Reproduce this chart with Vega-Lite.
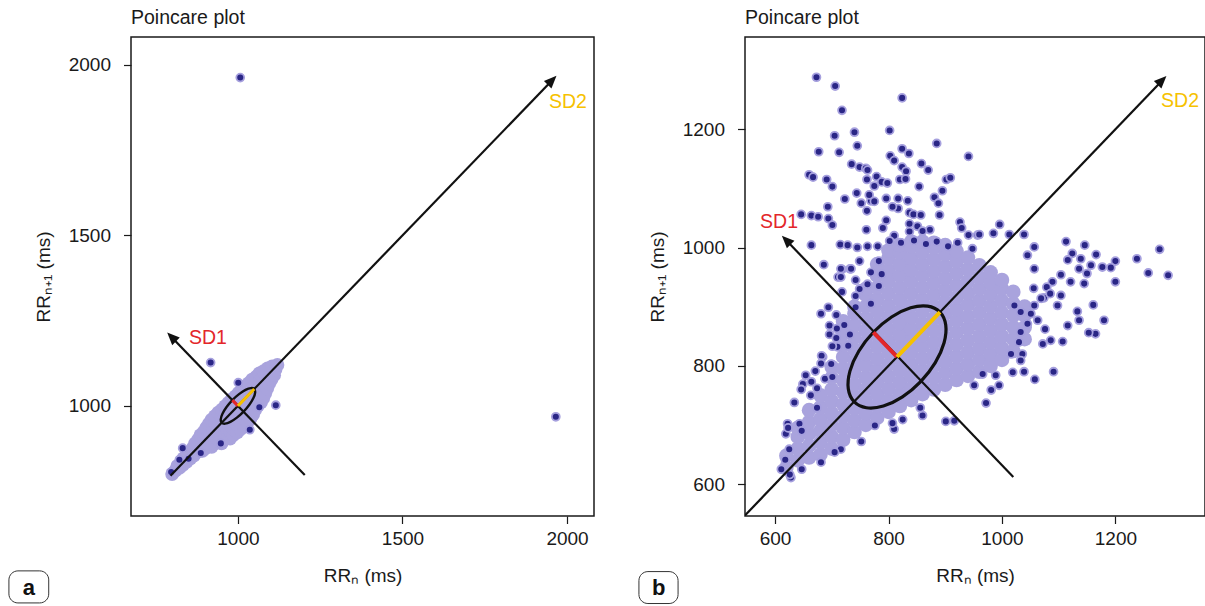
{
"$schema": "https://vega.github.io/schema/vega-lite/v6.json",
"background": "white",
"padding": {"left": 7, "top": 6, "right": 0, "bottom": 0},
"config": {
 "font": "Liberation Sans",
 "view": {"stroke": "#1a1a1a", "strokeWidth": 1.5},
 "axis": {"domain": false, "grid": false, "tickSize": 7.5, "tickColor": "#1a1a1a", "tickWidth": 1.2, "labelFontSize": 19, "labelColor": "#1a1a1a", "titleFontSize": 19, "titleFontWeight": "normal", "titleColor": "#1a1a1a", "labelFlush": false},
 "axisX": {"labelPadding": 6, "titlePadding": 18},
 "axisY": {"labelPadding": 13, "titlePadding": 15},
 "title": {"fontSize": 19.5, "fontWeight": "normal", "anchor": "start", "frame": "group", "color": "#1a1a1a", "offset": 9}
},
"datasets": {
 "cloudA": [{"x":800,"y":800},{"x":810,"y":810},{"x":816,"y":824},{"x":822,"y":818},{"x":827,"y":833},{"x":833,"y":827},{"x":834,"y":846},{"x":844,"y":836},{"x":845,"y":855},{"x":855,"y":845},{"x":854,"y":866},{"x":866,"y":854},{"x":863,"y":877},{"x":875,"y":865},{"x":870,"y":890},{"x":880,"y":880},{"x":892,"y":868},{"x":879,"y":901},{"x":891,"y":889},{"x":903,"y":877},{"x":886,"y":914},{"x":898,"y":902},{"x":910,"y":890},{"x":920,"y":880},{"x":896,"y":924},{"x":908,"y":912},{"x":920,"y":900},{"x":930,"y":890},{"x":904,"y":936},{"x":914,"y":926},{"x":924,"y":916},{"x":934,"y":906},{"x":944,"y":896},{"x":950,"y":890},{"x":912,"y":948},{"x":924,"y":936},{"x":936,"y":924},{"x":948,"y":912},{"x":958,"y":902},{"x":920,"y":960},{"x":930,"y":950},{"x":940,"y":940},{"x":950,"y":930},{"x":960,"y":920},{"x":970,"y":910},{"x":976,"y":904},{"x":930,"y":970},{"x":942,"y":958},{"x":954,"y":946},{"x":966,"y":934},{"x":978,"y":922},{"x":986,"y":914},{"x":940,"y":980},{"x":950,"y":970},{"x":960,"y":960},{"x":970,"y":950},{"x":980,"y":940},{"x":990,"y":930},{"x":998,"y":922},{"x":951,"y":989},{"x":963,"y":977},{"x":975,"y":965},{"x":987,"y":953},{"x":999,"y":941},{"x":1008,"y":932},{"x":961,"y":999},{"x":971,"y":989},{"x":981,"y":979},{"x":991,"y":969},{"x":1001,"y":959},{"x":1011,"y":949},{"x":1020,"y":940},{"x":971,"y":1009},{"x":983,"y":997},{"x":995,"y":985},{"x":1007,"y":973},{"x":1019,"y":961},{"x":1029,"y":951},{"x":981,"y":1019},{"x":991,"y":1009},{"x":1001,"y":999},{"x":1011,"y":989},{"x":1021,"y":979},{"x":1031,"y":969},{"x":1038,"y":962},{"x":992,"y":1028},{"x":1004,"y":1016},{"x":1016,"y":1004},{"x":1028,"y":992},{"x":1040,"y":980},{"x":1046,"y":974},{"x":1002,"y":1038},{"x":1012,"y":1028},{"x":1022,"y":1018},{"x":1032,"y":1008},{"x":1042,"y":998},{"x":1052,"y":988},{"x":1012,"y":1048},{"x":1024,"y":1036},{"x":1036,"y":1024},{"x":1048,"y":1012},{"x":1058,"y":1002},{"x":1022,"y":1058},{"x":1032,"y":1048},{"x":1042,"y":1038},{"x":1052,"y":1028},{"x":1062,"y":1018},{"x":1070,"y":1010},{"x":1033,"y":1067},{"x":1045,"y":1055},{"x":1057,"y":1043},{"x":1069,"y":1031},{"x":1077,"y":1023},{"x":1043,"y":1077},{"x":1053,"y":1067},{"x":1063,"y":1057},{"x":1073,"y":1047},{"x":1083,"y":1037},{"x":1055,"y":1085},{"x":1067,"y":1073},{"x":1079,"y":1061},{"x":1089,"y":1051},{"x":1065,"y":1095},{"x":1075,"y":1085},{"x":1085,"y":1075},{"x":1095,"y":1065},{"x":1078,"y":1102},{"x":1090,"y":1090},{"x":1102,"y":1078},{"x":1090,"y":1110},{"x":1100,"y":1100},{"x":1110,"y":1090},{"x":1104,"y":1116},{"x":1114,"y":1106},{"x":1120,"y":1120}],
 "dotsA": [{"x":1007,"y":1963},{"x":1966,"y":968},{"x":917,"y":1127},{"x":1115,"y":1002},{"x":1036,"y":930},{"x":832,"y":876},{"x":850,"y":845},{"x":797,"y":806},{"x":1001,"y":1068},{"x":1065,"y":996},{"x":887,"y":862},{"x":948,"y":890},{"x":822,"y":842}],
 "linesA": [{"x":795,"y":795,"x2":1955,"y2":1955},{"x":1203,"y":797,"x2":795,"y2":1205}],
 "tipsA": [{"t":"SD1","x":785,"y":1215},{"t":"SD2","x":1968,"y":1968}],
 "ellA": [{"i":0,"x":1049.5,"y":1049.5},{"i":1,"x":1039.2,"y":1052.2},{"i":2,"x":1023,"y":1047},{"i":3,"x":1003.3,"y":1034.6},{"i":4,"x":983,"y":1017},{"i":5,"x":965.4,"y":996.7},{"i":6,"x":953,"y":977},{"i":7,"x":947.8,"y":960.8},{"i":8,"x":950.5,"y":950.5},{"i":9,"x":960.8,"y":947.8},{"i":10,"x":977,"y":953},{"i":11,"x":996.7,"y":965.4},{"i":12,"x":1017,"y":983},{"i":13,"x":1034.6,"y":1003.3},{"i":14,"x":1047,"y":1023},{"i":15,"x":1052.2,"y":1039.2}],
 "sdA": [{"t":"SD1","x":1000,"y":1000,"x2":983,"y2":1017},{"t":"SD2","x":1000,"y":1000,"x2":1049.5,"y2":1049.5}],
 "textA": [{"t":"SD1","x":909,"y":1200},{"t":"SD2","x":2003,"y":1891}],
 "labA": [{"t":"a"}],
 "cloudB": [{"x":620,"y":628},{"x":620,"y":648},{"x":640,"y":640},{"x":640,"y":660},{"x":640,"y":680},{"x":640,"y":695},{"x":660,"y":645},{"x":660,"y":665},{"x":660,"y":685},{"x":660,"y":705},{"x":660,"y":725},{"x":680,"y":650},{"x":680,"y":670},{"x":680,"y":690},{"x":680,"y":710},{"x":680,"y":730},{"x":680,"y":750},{"x":700,"y":660},{"x":700,"y":680},{"x":700,"y":700},{"x":700,"y":720},{"x":700,"y":740},{"x":700,"y":760},{"x":700,"y":780},{"x":700,"y":798},{"x":720,"y":675},{"x":720,"y":695},{"x":720,"y":715},{"x":720,"y":735},{"x":720,"y":755},{"x":720,"y":775},{"x":720,"y":795},{"x":720,"y":815},{"x":720,"y":835},{"x":720,"y":855},{"x":720,"y":875},{"x":740,"y":688},{"x":740,"y":708},{"x":740,"y":728},{"x":740,"y":748},{"x":740,"y":768},{"x":740,"y":788},{"x":740,"y":808},{"x":740,"y":828},{"x":740,"y":848},{"x":740,"y":868},{"x":740,"y":888},{"x":740,"y":900},{"x":760,"y":700},{"x":760,"y":720},{"x":760,"y":740},{"x":760,"y":760},{"x":760,"y":780},{"x":760,"y":800},{"x":760,"y":820},{"x":760,"y":840},{"x":760,"y":860},{"x":760,"y":880},{"x":760,"y":900},{"x":760,"y":920},{"x":760,"y":930},{"x":780,"y":712},{"x":780,"y":732},{"x":780,"y":752},{"x":780,"y":772},{"x":780,"y":792},{"x":780,"y":812},{"x":780,"y":832},{"x":780,"y":852},{"x":780,"y":872},{"x":780,"y":892},{"x":780,"y":912},{"x":780,"y":932},{"x":780,"y":952},{"x":780,"y":972},{"x":800,"y":722},{"x":800,"y":742},{"x":800,"y":762},{"x":800,"y":782},{"x":800,"y":802},{"x":800,"y":822},{"x":800,"y":842},{"x":800,"y":862},{"x":800,"y":882},{"x":800,"y":902},{"x":800,"y":922},{"x":800,"y":942},{"x":800,"y":962},{"x":800,"y":982},{"x":800,"y":995},{"x":820,"y":732},{"x":820,"y":752},{"x":820,"y":772},{"x":820,"y":792},{"x":820,"y":812},{"x":820,"y":832},{"x":820,"y":852},{"x":820,"y":872},{"x":820,"y":892},{"x":820,"y":912},{"x":820,"y":932},{"x":820,"y":952},{"x":820,"y":972},{"x":820,"y":992},{"x":820,"y":1004},{"x":840,"y":742},{"x":840,"y":762},{"x":840,"y":782},{"x":840,"y":802},{"x":840,"y":822},{"x":840,"y":842},{"x":840,"y":862},{"x":840,"y":882},{"x":840,"y":902},{"x":840,"y":922},{"x":840,"y":942},{"x":840,"y":962},{"x":840,"y":982},{"x":840,"y":1002},{"x":840,"y":1010},{"x":860,"y":752},{"x":860,"y":772},{"x":860,"y":792},{"x":860,"y":812},{"x":860,"y":832},{"x":860,"y":852},{"x":860,"y":872},{"x":860,"y":892},{"x":860,"y":912},{"x":860,"y":932},{"x":860,"y":952},{"x":860,"y":972},{"x":860,"y":992},{"x":860,"y":1010},{"x":880,"y":760},{"x":880,"y":780},{"x":880,"y":800},{"x":880,"y":820},{"x":880,"y":840},{"x":880,"y":860},{"x":880,"y":880},{"x":880,"y":900},{"x":880,"y":920},{"x":880,"y":940},{"x":880,"y":960},{"x":880,"y":980},{"x":880,"y":1000},{"x":880,"y":1008},{"x":900,"y":768},{"x":900,"y":788},{"x":900,"y":808},{"x":900,"y":828},{"x":900,"y":848},{"x":900,"y":868},{"x":900,"y":888},{"x":900,"y":908},{"x":900,"y":928},{"x":900,"y":948},{"x":900,"y":968},{"x":900,"y":988},{"x":900,"y":1004},{"x":920,"y":776},{"x":920,"y":796},{"x":920,"y":816},{"x":920,"y":836},{"x":920,"y":856},{"x":920,"y":876},{"x":920,"y":896},{"x":920,"y":916},{"x":920,"y":936},{"x":920,"y":956},{"x":920,"y":976},{"x":920,"y":994},{"x":940,"y":783},{"x":940,"y":803},{"x":940,"y":823},{"x":940,"y":843},{"x":940,"y":863},{"x":940,"y":883},{"x":940,"y":903},{"x":940,"y":923},{"x":940,"y":943},{"x":940,"y":963},{"x":940,"y":983},{"x":960,"y":790},{"x":960,"y":810},{"x":960,"y":830},{"x":960,"y":850},{"x":960,"y":870},{"x":960,"y":890},{"x":960,"y":910},{"x":960,"y":930},{"x":960,"y":950},{"x":960,"y":970},{"x":980,"y":800},{"x":980,"y":820},{"x":980,"y":840},{"x":980,"y":860},{"x":980,"y":880},{"x":980,"y":900},{"x":980,"y":920},{"x":980,"y":940},{"x":980,"y":958},{"x":1000,"y":810},{"x":1000,"y":830},{"x":1000,"y":850},{"x":1000,"y":870},{"x":1000,"y":890},{"x":1000,"y":910},{"x":1000,"y":930},{"x":1000,"y":945},{"x":1020,"y":825},{"x":1020,"y":845},{"x":1020,"y":865},{"x":1020,"y":885},{"x":1020,"y":905},{"x":1020,"y":925},{"x":1040,"y":845},{"x":1040,"y":865},{"x":1040,"y":885},{"x":1040,"y":900}],
 "dotsB": [{"x":673,"y":1288},{"x":706,"y":1273},{"x":718,"y":1232},{"x":824,"y":1253},{"x":802,"y":1198},{"x":740,"y":1195},{"x":705,"y":1189},{"x":745,"y":1172},{"x":677,"y":1162},{"x":713,"y":1161},{"x":885,"y":1176},{"x":941,"y":1154},{"x":824,"y":1167},{"x":836,"y":1159},{"x":803,"y":1155},{"x":810,"y":1147},{"x":735,"y":1141},{"x":749,"y":1136},{"x":760,"y":1134},{"x":858,"y":1142},{"x":870,"y":1131},{"x":824,"y":1136},{"x":831,"y":1129},{"x":660,"y":1123},{"x":667,"y":1119},{"x":691,"y":1115},{"x":762,"y":1115},{"x":779,"y":1120},{"x":788,"y":1111},{"x":798,"y":1109},{"x":820,"y":1115},{"x":830,"y":1116},{"x":902,"y":1115},{"x":909,"y":1118},{"x":701,"y":1103},{"x":775,"y":1104},{"x":854,"y":1103},{"x":895,"y":1096},{"x":744,"y":1092},{"x":723,"y":1082},{"x":752,"y":1075},{"x":769,"y":1079},{"x":796,"y":1083},{"x":817,"y":1083},{"x":834,"y":1079},{"x":881,"y":1085},{"x":888,"y":1075},{"x":646,"y":1056},{"x":693,"y":1069},{"x":762,"y":1062},{"x":817,"y":1066},{"x":837,"y":1059},{"x":844,"y":1056},{"x":890,"y":1055},{"x":664,"y":1054},{"x":694,"y":1049},{"x":701,"y":1038},{"x":796,"y":1046},{"x":790,"y":1033},{"x":810,"y":1020},{"x":837,"y":1040},{"x":851,"y":1036},{"x":873,"y":1030},{"x":761,"y":1030},{"x":837,"y":1027},{"x":926,"y":1043},{"x":929,"y":1033},{"x":664,"y":1004},{"x":715,"y":1005},{"x":728,"y":1004},{"x":745,"y":1000},{"x":763,"y":1002},{"x":781,"y":1002},{"x":802,"y":1011},{"x":686,"y":971},{"x":718,"y":963},{"x":732,"y":964},{"x":749,"y":977},{"x":783,"y":977},{"x":711,"y":950},{"x":807,"y":1069},{"x":857,"y":1055},{"x":860,"y":1028},{"x":941,"y":1021},{"x":957,"y":1021},{"x":766,"y":1089},{"x":775,"y":1078},{"x":763,"y":1131},{"x":676,"y":1052},{"x":822,"y":1008},{"x":845,"y":1012},{"x":866,"y":1006},{"x":885,"y":1010},{"x":905,"y":1002},{"x":922,"y":1008},{"x":948,"y":998},{"x":1113,"y":1010},{"x":1278,"y":997},{"x":1293,"y":953},{"x":1258,"y":957},{"x":1238,"y":981},{"x":1146,"y":1004},{"x":1166,"y":988},{"x":1200,"y":977},{"x":1200,"y":942},{"x":1177,"y":967},{"x":1192,"y":966},{"x":1157,"y":970},{"x":1136,"y":964},{"x":1124,"y":990},{"x":1139,"y":981},{"x":1116,"y":979},{"x":1104,"y":954},{"x":1121,"y":942},{"x":1150,"y":956},{"x":1145,"y":939},{"x":1089,"y":942},{"x":1079,"y":933},{"x":1104,"y":919},{"x":1098,"y":902},{"x":1074,"y":915},{"x":1085,"y":922},{"x":1056,"y":931},{"x":1057,"y":964},{"x":1045,"y":987},{"x":1057,"y":1001},{"x":1039,"y":1022},{"x":1013,"y":1022},{"x":996,"y":1039},{"x":960,"y":1022},{"x":985,"y":1024},{"x":1133,"y":892},{"x":1136,"y":877},{"x":1161,"y":903},{"x":1180,"y":877},{"x":1165,"y":854},{"x":1153,"y":856},{"x":1116,"y":868},{"x":1107,"y":841},{"x":1086,"y":843},{"x":1072,"y":837},{"x":1076,"y":862},{"x":1091,"y":790},{"x":1058,"y":777},{"x":995,"y":767},{"x":981,"y":759},{"x":1039,"y":790},{"x":1019,"y":789},{"x":989,"y":784},{"x":966,"y":786},{"x":1036,"y":820},{"x":1033,"y":809},{"x":1016,"y":820},{"x":1030,"y":840},{"x":1033,"y":857},{"x":1045,"y":871},{"x":1063,"y":877},{"x":1051,"y":888},{"x":1033,"y":891},{"x":1022,"y":902},{"x":1057,"y":902},{"x":1069,"y":914},{"x":972,"y":737},{"x":681,"y":888},{"x":696,"y":868},{"x":684,"y":815},{"x":699,"y":803},{"x":710,"y":832},{"x":716,"y":964},{"x":734,"y":964},{"x":716,"y":950},{"x":749,"y":930},{"x":649,"y":769},{"x":663,"y":750},{"x":634,"y":738},{"x":622,"y":702},{"x":643,"y":702},{"x":619,"y":685},{"x":625,"y":659},{"x":611,"y":625},{"x":628,"y":611},{"x":752,"y":672},{"x":716,"y":659},{"x":825,"y":709},{"x":860,"y":716},{"x":901,"y":706},{"x":916,"y":707},{"x":951,"y":767},{"x":810,"y":693},{"x":856,"y":729},{"x":807,"y":703},{"x":776,"y":699},{"x":705,"y":654},{"x":681,"y":637},{"x":647,"y":625},{"x":626,"y":616},{"x":618,"y":641},{"x":623,"y":695},{"x":664,"y":773},{"x":646,"y":760},{"x":674,"y":762},{"x":688,"y":778},{"x":682,"y":817},{"x":696,"y":853},{"x":701,"y":833},{"x":694,"y":899},{"x":708,"y":886},{"x":722,"y":869},{"x":732,"y":853},{"x":708,"y":847},{"x":709,"y":863},{"x":718,"y":925},{"x":742,"y":918},{"x":763,"y":938},{"x":783,"y":935},{"x":742,"y":945},{"x":769,"y":958},{"x":788,"y":955},{"x":681,"y":804},{"x":671,"y":791},{"x":654,"y":784},{"x":742,"y":899},{"x":769,"y":905},{"x":729,"y":834},{"x":701,"y":781},{"x":674,"y":729},{"x":647,"y":690}],
 "linesB": [{"x":547,"y":547,"x2":1283,"y2":1283},{"x":1020,"y":612,"x2":618,"y2":1014}],
 "tipsB": [{"t":"SD1","x":612,"y":1020},{"t":"SD2","x":1290,"y":1290}],
 "ellB": [{"i":0,"x":890.7,"y":890.7},{"i":1,"x":868.9,"y":900.9},{"i":2,"x":839,"y":898},{"i":3,"x":805.4,"y":882.5},{"i":4,"x":773.3,"y":856.7},{"i":5,"x":747.5,"y":824.6},{"i":6,"x":732,"y":791},{"i":7,"x":729.1,"y":761.1},{"i":8,"x":739.3,"y":739.3},{"i":9,"x":761.1,"y":729.1},{"i":10,"x":791,"y":732},{"i":11,"x":824.6,"y":747.5},{"i":12,"x":856.7,"y":773.3},{"i":13,"x":882.5,"y":805.4},{"i":14,"x":898,"y":839},{"i":15,"x":900.9,"y":868.9}],
 "sdB": [{"t":"SD1","x":815,"y":815,"x2":773.3,"y2":856.7},{"t":"SD2","x":815,"y":815,"x2":890.7,"y2":890.7}],
 "textB": [{"t":"SD1","x":607,"y":1044},{"t":"SD2","x":1314,"y":1247}],
 "labB": [{"t":"b"}]
},
"spacing": 151,
"bounds": "flush",
"hconcat": [
 {
  "width": 463, "height": 479,
  "title": "Poincare plot",
  "layer": [
   {"data": {"name": "cloudA"}, "mark": {"type": "circle", "size": 190, "color": "#a9a3dd", "opacity": 1}, "encoding": {
     "x": {"field": "x", "type": "quantitative", "scale": {"domain": [675, 2082], "nice": false, "zero": false}, "axis": {"values": [1000, 1500, 2000], "format": "d", "title": "RRₙ (ms)"}},
     "y": {"field": "y", "type": "quantitative", "scale": {"domain": [677, 2082], "nice": false, "zero": false}, "axis": {"values": [1000, 1500, 2000], "format": "d", "title": "RRₙ₊₁ (ms)"}}}},
   {"data": {"name": "dotsA"}, "mark": {"type": "circle", "size": 62, "fill": "#2a2686", "stroke": "#a6a0de", "strokeWidth": 1.8, "opacity": 1}, "encoding": {"x": {"field": "x", "type": "quantitative"}, "y": {"field": "y", "type": "quantitative"}}},
   {"data": {"name": "linesA"}, "mark": {"type": "rule", "color": "#111111", "strokeWidth": 2.2}, "encoding": {"x": {"field": "x", "type": "quantitative"}, "y": {"field": "y", "type": "quantitative"}, "x2": {"field": "x2"}, "y2": {"field": "y2"}}},
   {"data": {"name": "ellA"}, "mark": {"type": "line", "color": "#111111", "strokeWidth": 2.4, "interpolate": "cardinal-closed"}, "encoding": {"x": {"field": "x", "type": "quantitative"}, "y": {"field": "y", "type": "quantitative"}, "order": {"field": "i", "type": "quantitative"}}},
   {"data": {"name": "sdA"}, "mark": {"type": "rule", "strokeWidth": 3}, "encoding": {"x": {"field": "x", "type": "quantitative"}, "y": {"field": "y", "type": "quantitative"}, "x2": {"field": "x2"}, "y2": {"field": "y2"}, "color": {"field": "t", "type": "nominal", "scale": {"domain": ["SD1", "SD2"], "range": ["#e3262a", "#f6c100"]}, "legend": null}}},
   {"data": {"name": "tipsA"}, "transform": [{"filter": "datum.t === 'SD1'"}], "mark": {"type": "point", "shape": "M0,0L0.45,1.05L-0.45,1.05Z", "size": 560, "filled": true, "color": "#111111", "opacity": 1, "angle": 315}, "encoding": {"x": {"field": "x", "type": "quantitative"}, "y": {"field": "y", "type": "quantitative"}}},
   {"data": {"name": "tipsA"}, "transform": [{"filter": "datum.t === 'SD2'"}], "mark": {"type": "point", "shape": "M0,0L0.45,1.05L-0.45,1.05Z", "size": 560, "filled": true, "color": "#111111", "opacity": 1, "angle": 45}, "encoding": {"x": {"field": "x", "type": "quantitative"}, "y": {"field": "y", "type": "quantitative"}}},
   {"data": {"name": "textA"}, "mark": {"type": "text", "fontSize": 19.5, "align": "center", "baseline": "middle"}, "encoding": {"x": {"field": "x", "type": "quantitative"}, "y": {"field": "y", "type": "quantitative"}, "text": {"field": "t"}, "color": {"field": "t", "type": "nominal", "scale": {"domain": ["SD1", "SD2"], "range": ["#e3262a", "#f6c100"]}, "legend": null}}},
   {"data": {"name": "labA"}, "mark": {"type": "rect", "fill": "white", "fillOpacity": 0, "stroke": "#333333", "strokeWidth": 1, "cornerRadius": 9}, "encoding": {"x": {"datum": 304, "type": "quantitative"}, "x2": {"datum": 425}, "y": {"datum": 516, "type": "quantitative"}, "y2": {"datum": 422}}},
   {"data": {"name": "labA"}, "mark": {"type": "text", "fontSize": 22, "fontWeight": "bold", "color": "#111111", "align": "center", "baseline": "middle"}, "encoding": {"x": {"datum": 365, "type": "quantitative"}, "y": {"datum": 466, "type": "quantitative"}, "text": {"field": "t"}}}
  ]
 },
 {
  "width": 460, "height": 479,
  "title": "Poincare plot",
  "layer": [
   {"data": {"name": "cloudB"}, "mark": {"type": "circle", "size": 215, "color": "#a9a3dd", "opacity": 1}, "encoding": {
     "x": {"field": "x", "type": "quantitative", "scale": {"domain": [547, 1358], "nice": false, "zero": false}, "axis": {"values": [600, 800, 1000, 1200], "format": "d", "title": "RRₙ (ms)"}},
     "y": {"field": "y", "type": "quantitative", "scale": {"domain": [546, 1356], "nice": false, "zero": false}, "axis": {"values": [600, 800, 1000, 1200], "format": "d", "title": "RRₙ₊₁ (ms)"}}}},
   {"data": {"name": "dotsB"}, "mark": {"type": "circle", "size": 62, "fill": "#2a2686", "stroke": "#a6a0de", "strokeWidth": 1.8, "opacity": 1}, "encoding": {"x": {"field": "x", "type": "quantitative"}, "y": {"field": "y", "type": "quantitative"}}},
   {"data": {"name": "linesB"}, "mark": {"type": "rule", "color": "#111111", "strokeWidth": 2.2, "clip": true}, "encoding": {"x": {"field": "x", "type": "quantitative"}, "y": {"field": "y", "type": "quantitative"}, "x2": {"field": "x2"}, "y2": {"field": "y2"}}},
   {"data": {"name": "ellB"}, "mark": {"type": "line", "color": "#111111", "strokeWidth": 3.2, "interpolate": "cardinal-closed"}, "encoding": {"x": {"field": "x", "type": "quantitative"}, "y": {"field": "y", "type": "quantitative"}, "order": {"field": "i", "type": "quantitative"}}},
   {"data": {"name": "sdB"}, "mark": {"type": "rule", "strokeWidth": 4}, "encoding": {"x": {"field": "x", "type": "quantitative"}, "y": {"field": "y", "type": "quantitative"}, "x2": {"field": "x2"}, "y2": {"field": "y2"}, "color": {"field": "t", "type": "nominal", "scale": {"domain": ["SD1", "SD2"], "range": ["#e3262a", "#f6c100"]}, "legend": null}}},
   {"data": {"name": "tipsB"}, "transform": [{"filter": "datum.t === 'SD1'"}], "mark": {"type": "point", "shape": "M0,0L0.45,1.05L-0.45,1.05Z", "size": 560, "filled": true, "color": "#111111", "opacity": 1, "angle": 315}, "encoding": {"x": {"field": "x", "type": "quantitative"}, "y": {"field": "y", "type": "quantitative"}}},
   {"data": {"name": "tipsB"}, "transform": [{"filter": "datum.t === 'SD2'"}], "mark": {"type": "point", "shape": "M0,0L0.45,1.05L-0.45,1.05Z", "size": 560, "filled": true, "color": "#111111", "opacity": 1, "angle": 45}, "encoding": {"x": {"field": "x", "type": "quantitative"}, "y": {"field": "y", "type": "quantitative"}}},
   {"data": {"name": "textB"}, "mark": {"type": "text", "fontSize": 19.5, "align": "center", "baseline": "middle"}, "encoding": {"x": {"field": "x", "type": "quantitative"}, "y": {"field": "y", "type": "quantitative"}, "text": {"field": "t"}, "color": {"field": "t", "type": "nominal", "scale": {"domain": ["SD1", "SD2"], "range": ["#e3262a", "#f6c100"]}, "legend": null}}},
   {"data": {"name": "labB"}, "mark": {"type": "rect", "fill": "white", "fillOpacity": 0, "stroke": "#333333", "strokeWidth": 1, "cornerRadius": 9}, "encoding": {"x": {"datum": 360, "type": "quantitative"}, "x2": {"datum": 429}, "y": {"datum": 452, "type": "quantitative"}, "y2": {"datum": 398}}},
   {"data": {"name": "labB"}, "mark": {"type": "text", "fontSize": 22, "fontWeight": "bold", "color": "#111111", "align": "center", "baseline": "middle"}, "encoding": {"x": {"datum": 395, "type": "quantitative"}, "y": {"datum": 424, "type": "quantitative"}, "text": {"field": "t"}, "color": {"value": "#111111"}}}
  ]
 }
]
}
